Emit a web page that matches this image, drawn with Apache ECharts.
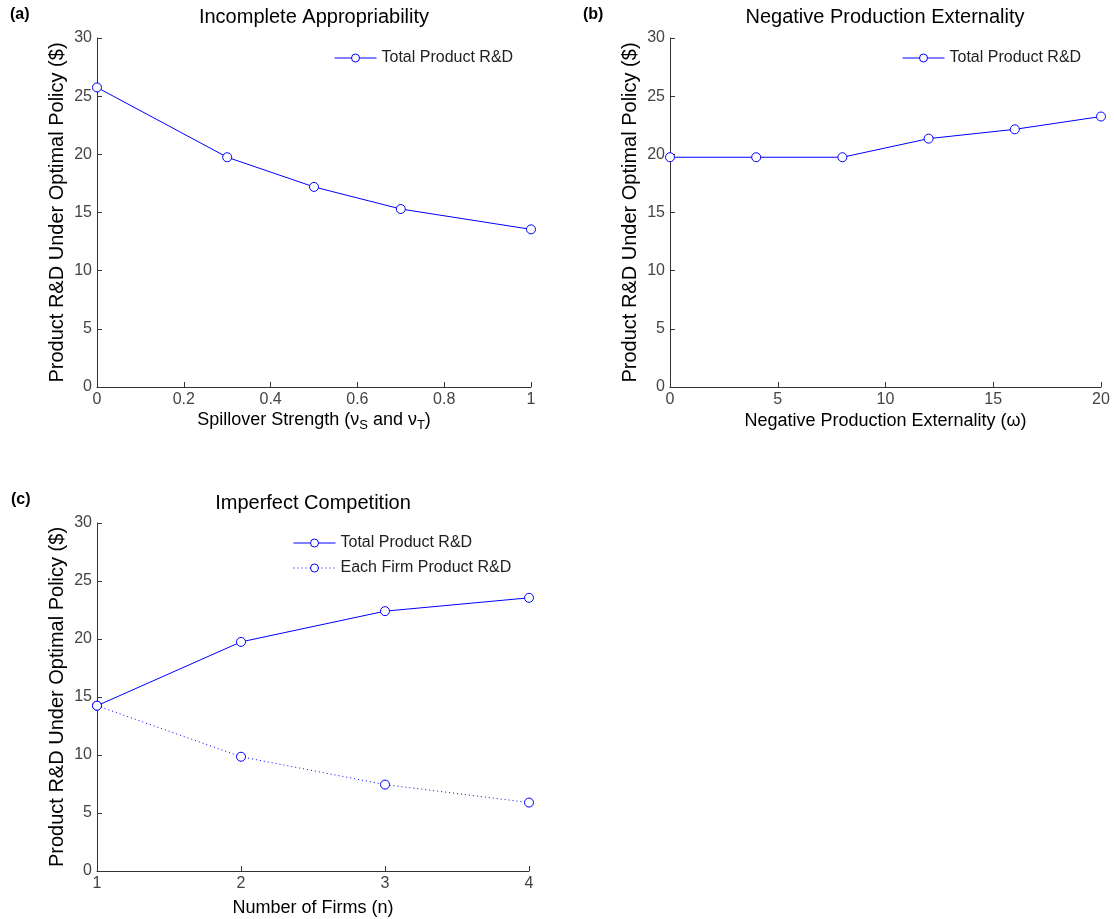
<!DOCTYPE html>
<html>
<head>
<meta charset="utf-8">
<script src="https://cdn.jsdelivr.net/npm/echarts@6/dist/echarts.min.js"></script>
<style>
html,body{margin:0;padding:0;background:#fff;}
#chart{width:1114px;height:919px;}
</style>
</head>
<body>
<div id="chart"></div>
<script>
// Panel (a): Incomplete Appropriability
var spillover = [0, 0.3, 0.5, 0.7, 1];
var totalA = [25.75, 19.75, 17.2, 15.3, 13.55];
// Panel (b): Negative Production Externality
var externality = [0, 4, 8, 12, 16, 20];
var totalB = [19.75, 19.75, 19.75, 21.35, 22.15, 23.25];
// Panel (c): Imperfect Competition
var firms = [1, 2, 3, 4];
var totalC = [14.25, 19.75, 22.4, 23.55];
var eachC = [14.25, 9.85, 7.45, 5.9];

var titles = ['Incomplete Appropriability', 'Negative Production Externality', 'Imperfect Competition'];
var panelLabels = ['(a)', '(b)', '(c)'];
var yName = 'Product R&D Under Optimal Policy ($)';
var xNames = ['Spillover Strength (\u03bd{s|S} and \u03bd{s|T})', 'Negative Production Externality (\u03c9)', 'Number of Firms (n)'];
var seriesNames = ['Total Product R&D', 'Each Firm Product R&D'];

function pairs(xs, ys) { return xs.map(function (x, i) { return [x, ys[i]]; }); }

var FONT = '"Liberation Sans", Arial, Helvetica, sans-serif';
var AX = '#333';
var BLUE = '#0000ff';

var grids = [
  {left: 97, top: 38, width: 434, height: 349},
  {left: 670, top: 38, width: 431, height: 349},
  {left: 97, top: 523, width: 432, height: 348}
];

function xAxis(i, min, max, interval, gap) {
  return {
    type: 'value', gridIndex: i, min: min, max: max, interval: interval,
    name: xNames[i], nameLocation: 'middle', nameGap: gap,
    nameTextStyle: {fontSize: 18, color: '#000', fontFamily: FONT,
      rich: {s: {fontSize: 13, color: '#000', fontFamily: FONT, padding: [10, 0, 0, 0]}}},
    axisLine: {show: true, onZero: false, lineStyle: {color: AX, width: 1}},
    axisTick: {show: true, inside: true, length: 5, lineStyle: {color: AX, width: 1}},
    axisLabel: {margin: 5, fontSize: 16, color: '#444', fontFamily: FONT},
    splitLine: {show: false}
  };
}
function yAxis(i) {
  return {
    type: 'value', gridIndex: i, min: 0, max: 30, interval: 5,
    name: yName, nameLocation: 'middle', nameGap: 30,
    nameTextStyle: {fontSize: 20, color: '#000', fontFamily: FONT},
    axisLine: {show: true, onZero: false, lineStyle: {color: AX, width: 1}},
    axisTick: {show: true, inside: true, length: 5, lineStyle: {color: AX, width: 1}},
    axisLabel: {margin: 5, fontSize: 16, color: '#444', fontFamily: FONT},
    splitLine: {show: false}
  };
}
function lineSeries(name, i, data, dotted) {
  return {
    type: 'line', name: name, xAxisIndex: i, yAxisIndex: i, data: data,
    symbol: 'circle', symbolSize: 9,
    lineStyle: {color: BLUE, width: 1, type: dotted ? [1, 3] : 'solid'},
    itemStyle: {color: '#ffffff', borderColor: BLUE, borderWidth: 1},
    emphasis: {disabled: true}
  };
}
function legend(names, left, top) {
  return {
    data: names, left: left, top: top, orient: 'vertical', padding: 0,
    itemWidth: 42, itemHeight: 10, itemGap: 9, selectedMode: false,
    itemStyle: {color: '#ffffff', borderColor: BLUE, borderWidth: 1},
    lineStyle: {color: BLUE, width: 1},
    textStyle: {fontSize: 16, color: '#222', fontFamily: FONT}
  };
}

var option = {
  animation: false,
  backgroundColor: '#fff',
  title: [
    {text: titles[0], left: 314, top: 7, textAlign: 'center', padding: 0, textStyle: {fontSize: 20, fontWeight: 'normal', color: '#000', fontFamily: FONT}},
    {text: titles[1], left: 885, top: 7, textAlign: 'center', padding: 0, textStyle: {fontSize: 20, fontWeight: 'normal', color: '#000', fontFamily: FONT}},
    {text: titles[2], left: 313, top: 493, textAlign: 'center', padding: 0, textStyle: {fontSize: 20, fontWeight: 'normal', color: '#000', fontFamily: FONT}},
    {text: panelLabels[0], left: 10, top: 7, padding: 0, textStyle: {fontSize: 16, fontWeight: 'bold', color: '#000', fontFamily: FONT}},
    {text: panelLabels[1], left: 583, top: 7, padding: 0, textStyle: {fontSize: 16, fontWeight: 'bold', color: '#000', fontFamily: FONT}},
    {text: panelLabels[2], left: 11, top: 492, padding: 0, textStyle: {fontSize: 16, fontWeight: 'bold', color: '#000', fontFamily: FONT}}
  ],
  legend: [
    legend([seriesNames[0]], 334, 50),
    legend([seriesNames[0]], 902, 50),
    legend([seriesNames[0], seriesNames[1]], 293, 535)
  ],
  grid: grids,
  xAxis: [
    xAxis(0, 0, 1, 0.2, 22),
    xAxis(1, 0, 20, 5, 25),
    xAxis(2, 1, 4, 1, 28)
  ],
  yAxis: [yAxis(0), yAxis(1), yAxis(2)],
  series: [
    lineSeries(seriesNames[0], 0, pairs(spillover, totalA), false),
    lineSeries(seriesNames[0], 1, pairs(externality, totalB), false),
    lineSeries(seriesNames[0], 2, pairs(firms, totalC), false),
    lineSeries(seriesNames[1], 2, pairs(firms, eachC), true)
  ]
};

var chart = echarts.init(document.getElementById('chart'), null, {renderer: 'canvas'});
chart.setOption(option);
</script>
</body>
</html>
